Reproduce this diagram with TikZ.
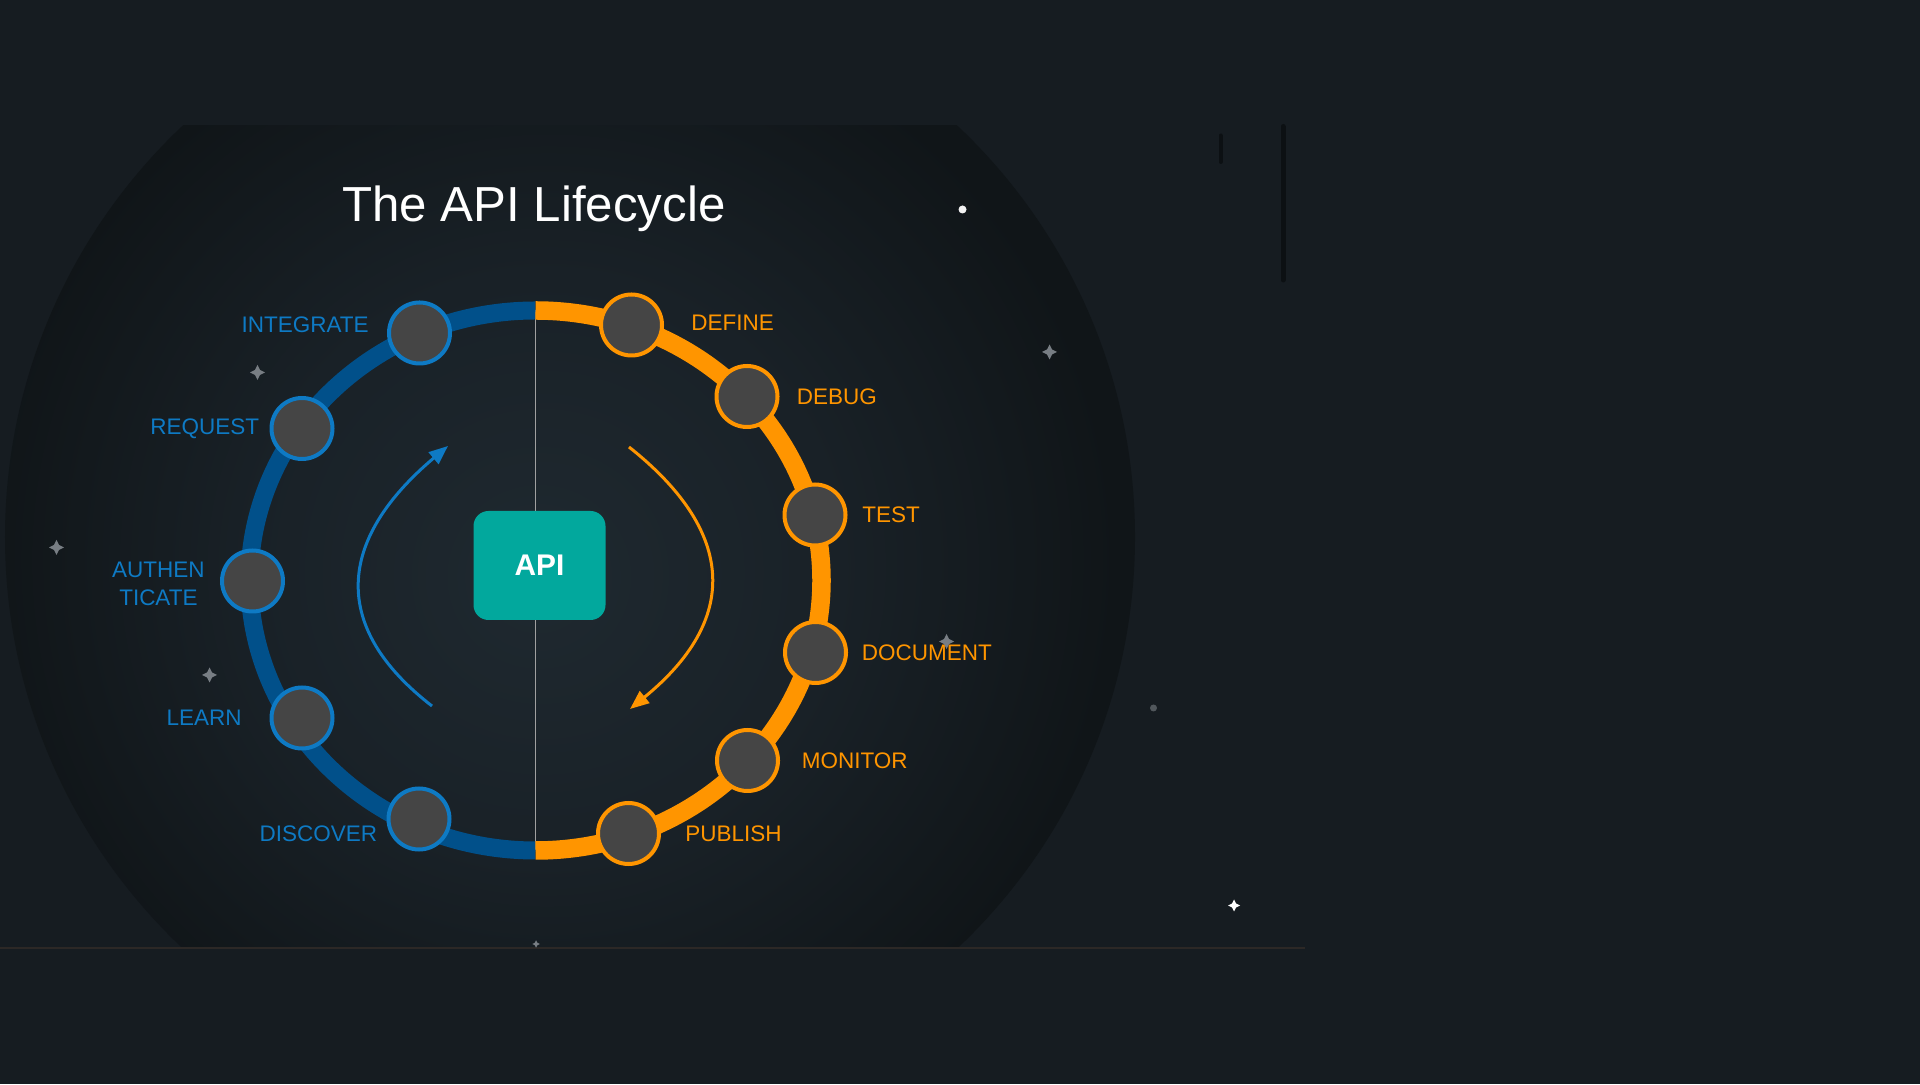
\documentclass[tikz,border=0pt]{standalone}
\usepackage{fontspec}
\setmainfont{Liberation Sans}
\usepackage{xcolor}
\usepackage{tikz}
\usetikzlibrary{arrows.meta, positioning, calc}
\definecolor{BgDark}{RGB}{22,28,33}
\definecolor{HaloIn}{RGB}{31,41,48}
\definecolor{HaloMid}{RGB}{25,33,39}
\definecolor{HaloOut}{RGB}{16,21,24}
\definecolor{RingBlue}{RGB}{1,80,138}
\definecolor{EdgeBlue}{RGB}{14,122,196}
\definecolor{RingOrange}{RGB}{255,149,0}
\definecolor{NodeFill}{RGB}{69,69,69}
\definecolor{ApiTeal}{RGB}{2,168,157}
\definecolor{DivGray}{RGB}{160,160,160}
\definecolor{StarGray}{RGB}{120,126,132}
\definecolor{EdgeLine}{RGB}{44,40,38}
\definecolor{Smudge}{RGB}{12,16,19}
\pgfdeclareradialshading{halo}{\pgfpoint{-1.5bp}{-1.9bp}}{color(0bp)=(HaloIn); color(13bp)=(HaloMid); color(25bp)=(HaloOut); color(50bp)=(HaloOut)}

\begin{document}
\begin{tikzpicture}[
  stage/.style={circle, fill=NodeFill, line width=0.08cm,
                minimum size=1.22cm, inner sep=0pt},
  lblB/.style={text=EdgeBlue, inner sep=0pt, align=center,
               font=\fontsize{12.8}{15.6}\selectfont},
  lblO/.style={text=RingOrange, inner sep=0pt,
               font=\fontsize{12.8}{15.6}\selectfont},
  apibox/.style={fill=ApiTeal, rounded corners=0.3cm,
                 minimum width=2.64cm, minimum height=2.18cm,
                 text=white, font=\bfseries\fontsize{17}{20}\selectfont},
  flow/.style={line width=0.06cm, -{Triangle[length=0.38cm, width=0.3cm]}},
  spark/.pic={\fill (0,0.15) -- (0.05,0.05) -- (0.15,0) -- (0.05,-0.05)
              -- (0,-0.15) -- (-0.05,-0.05) -- (-0.15,0) -- (-0.05,0.05) -- cycle;},
]
% backdrop
\fill[BgDark] (0,0) rectangle (38.4,21.68);
\useasboundingbox (0,0) rectangle (38.4,21.68);
\begin{scope}
  \clip (0,2.726) rectangle (38.4,19.166);
  \shade[shading=halo] (11.40,10.94) circle (11.30);
\end{scope}
\draw[EdgeLine, line width=0.05cm] (0,2.72) -- (26.1,2.72);
\draw[Smudge, line width=0.1cm, line cap=round] (25.66,19.15) -- (25.66,16.08);
\draw[Smudge, line width=0.08cm, line cap=round] (24.41,18.97) -- (24.41,18.44);

\node[text=white, anchor=base, font=\fontsize{28}{34}\selectfont] (title)
  at (10.68,17.25) {The API Lifecycle};

% ring
\coordinate (ctr) at (10.71,10.07);
\coordinate (top) at ($(ctr)+(0,5.40)$);
\coordinate (bot) at ($(ctr)+(0,-5.40)$);
\draw[DivGray, line width=0.03cm] (top) -- (bot);
\draw[RingBlue, line width=0.36cm] (top)
  arc[start angle=90, end angle=270, x radius=5.72, y radius=5.40];
\draw[RingOrange, line width=0.37cm] (top)
  arc[start angle=90, end angle=-90, x radius=5.72, y radius=5.40];

\node[apibox] (api) at (10.79,10.37) {API};

% consume side
\node[stage, draw=EdgeBlue] (intg) at (8.39,15.02) {};
\node[stage, draw=EdgeBlue] (req)  at (6.04,13.11) {};
\node[stage, draw=EdgeBlue] (auth) at (5.05,10.06) {};
\node[stage, draw=EdgeBlue] (lrn)  at (6.04,7.32) {};
\node[stage, draw=EdgeBlue] (disc) at (8.38,5.30) {};
\node[lblB, left=0.36cm of intg, yshift=0.16cm] (intgL) {INTEGRATE};
\node[lblB, left=0.2cm of req] (reqL) {REQUEST};
\node[lblB, left=0.3cm of auth, yshift=-0.06cm] (authL) {AUTHEN\\TICATE};
\node[lblB, left=0.55cm of lrn] (lrnL) {LEARN};
\node[lblB, left=0.18cm of disc, yshift=-0.3cm] (discL) {DISCOVER};

% produce side
\node[stage, draw=RingOrange] (def) at (12.63,15.18) {};
\node[stage, draw=RingOrange] (dbg) at (14.94,13.75) {};
\node[stage, draw=RingOrange] (tst) at (16.30,11.38) {};
\node[stage, draw=RingOrange] (doc) at (16.31,8.63) {};
\node[stage, draw=RingOrange] (mon) at (14.95,6.47) {};
\node[stage, draw=RingOrange] (pub) at (12.57,5.01) {};
\node[lblO, right=0.54cm of def, yshift=0.05cm] (defL) {DEFINE};
\node[lblO, right=0.34cm of dbg] (dbgL) {DEBUG};
\node[lblO, right=0.29cm of tst] (tstL) {TEST};
\node[lblO, right=0.27cm of doc] (docL) {DOCUMENT};
\node[lblO, right=0.43cm of mon] (monL) {MONITOR};
\node[lblO, right=0.48cm of pub] (pubL) {PUBLISH};

% inner flow arrows
\coordinate (bs) at (8.64,7.56);
\coordinate (be) at (8.96,12.76);
\coordinate (os) at (12.58,12.74);
\coordinate (oe) at (12.60,7.50);
\draw[flow, EdgeBlue] (bs) .. controls (6.61,9.13) and (6.72,10.87) .. (be);
\draw[flow, RingOrange] (os) .. controls (14.75,11.02) and (14.77,9.27) .. (oe);

% sparkles
\pic[StarGray] at (5.15,14.23) {spark};
\pic[StarGray] at (1.13,10.73) {spark};
\pic[StarGray] at (4.19,8.18) {spark};
\pic[StarGray] at (20.99,14.64) {spark};
\pic[StarGray] at (18.93,8.85) {spark};
\pic[white, scale=0.8] at (24.68,3.57) {spark};
\pic[StarGray, scale=0.5] at (10.72,2.80) {spark};
\fill[white!90!gray] (19.25,17.49) circle (0.08);
\fill[StarGray!60!BgDark] (23.07,7.52) circle (0.07);
\end{tikzpicture}
\end{document}
